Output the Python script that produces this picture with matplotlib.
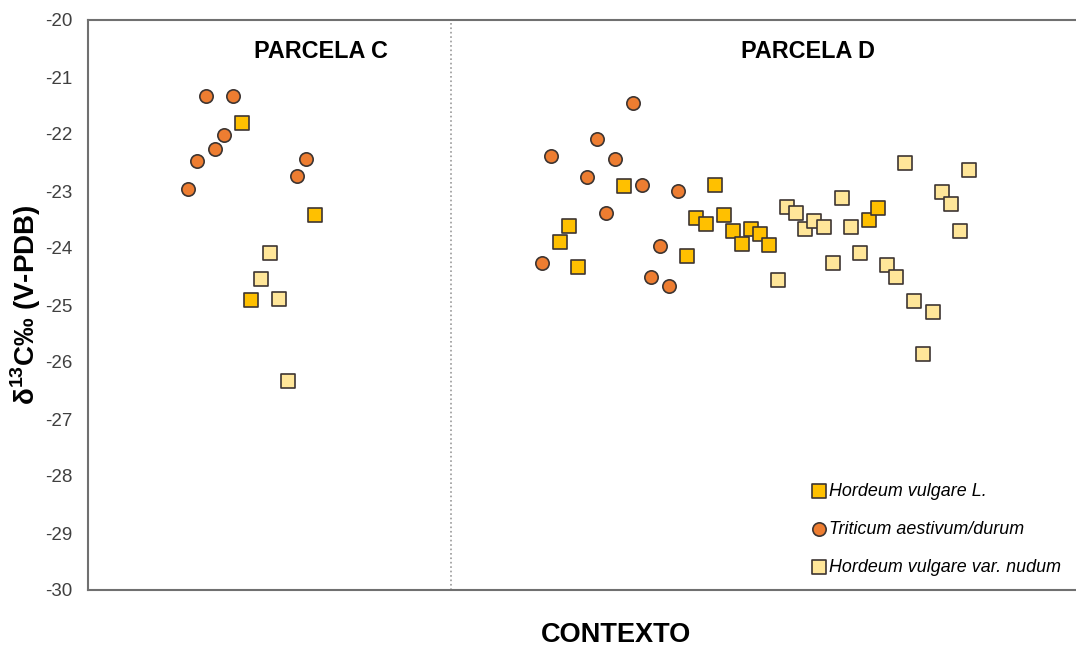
import matplotlib
import matplotlib.pyplot as plt

matplotlib.rcParams["font.family"] = ["Liberation Sans", "DejaVu Sans"]
matplotlib.rcParams["mathtext.fontset"] = "custom"
matplotlib.rcParams["mathtext.rm"] = "Liberation Sans:bold"
matplotlib.rcParams["mathtext.bf"] = "Liberation Sans:bold"

# sample position along the context axis and delta-13C values per taxon
hordeum_x = [17, 18, 25,
             52, 53, 54, 59, 66, 67, 68, 69, 70, 71, 72, 73, 74, 75, 86, 87]
hordeum_y = [-21.80, -24.91, -23.42,
             -23.89, -23.61, -24.33, -22.91, -24.14, -23.48, -23.58, -22.89,
             -23.42, -23.70, -23.93, -23.67, -23.76, -23.95, -23.51, -23.30]

triticum_x = [11, 12, 13, 14, 15, 16, 23, 24,
              50, 51, 55, 56, 57, 58, 60, 61, 62, 63, 64, 65]
triticum_y = [-22.96, -22.47, -21.33, -22.26, -22.02, -21.33, -22.73, -22.43,
              -24.27, -22.39, -22.75, -22.09, -23.39, -22.44, -21.45, -22.90,
              -24.50, -23.96, -24.66, -23.00]

nudum_x = [19, 20, 21, 22,
           76, 77, 78, 79, 80, 81, 82, 83, 84, 85,
           88, 89, 90, 91, 92, 93, 94, 95, 96, 97]
nudum_y = [-24.54, -24.09, -24.89, -26.33,
           -24.56, -23.28, -23.39, -23.67, -23.53, -23.64, -24.27, -23.13,
           -23.64, -24.08,
           -24.30, -24.50, -22.50, -24.93, -25.86, -25.13, -23.02, -23.23,
           -23.70, -22.64]

plot_boundary = 40
y_ticks = list(range(-30, -19))

fig = plt.figure(figsize=(10.76, 6.46), dpi=100)
ax = fig.add_axes([88 / 1076, 56 / 646, 1 - 88 / 1076, 570 / 646])

edge = "#3d3532"
ax.scatter(hordeum_x, hordeum_y, marker="s", s=95, c="#FFC000",
           edgecolors=edge, linewidths=1.2, zorder=3, label="Hordeum vulgare L.")
ax.scatter(triticum_x, triticum_y, marker="o", s=92, c="#ED7D31",
           edgecolors=edge, linewidths=1.2, zorder=3,
           label="Triticum aestivum/durum")
ax.scatter(nudum_x, nudum_y, marker="s", s=95, c="#FFE699",
           edgecolors=edge, linewidths=1.2, zorder=3,
           label="Hordeum vulgare var. nudum")

ax.axvline(plot_boundary, color="#9a9a9a", linestyle=":", linewidth=1.2)

ax.set_xlim(0, 108.8)
ax.set_ylim(-30, -20)
ax.set_yticks(y_ticks)
ax.set_yticklabels([str(t) for t in y_ticks])
ax.set_xticks([])
ax.tick_params(axis="y", length=0, pad=11, labelsize=13.5, labelcolor="#404040")

for side in ("left", "bottom", "top"):
    ax.spines[side].set_color("#707070")
    ax.spines[side].set_linewidth(1.5)
ax.spines["right"].set_visible(False)

ax.set_ylabel("δ$^{13}$C‰ (V-PDB)", fontsize=20, fontweight="bold", labelpad=2)
ax.set_xlabel("CONTEXTO", fontsize=19.5, fontweight="bold", labelpad=23)
ax.xaxis.label.set_x(0.534)

ax.text(0.236, 0.945, "PARCELA C", transform=ax.transAxes, ha="center",
        va="center", fontsize=16.8, fontweight="bold")
ax.text(0.729, 0.945, "PARCELA D", transform=ax.transAxes, ha="center",
        va="center", fontsize=16.8, fontweight="bold")

ax.legend(loc="lower left", bbox_to_anchor=(0.714, 0.0), frameon=False,
          prop={"style": "italic", "size": 12.9}, handletextpad=0.0,
          labelspacing=1.17, borderaxespad=0.4, handlelength=1.2)

fig.savefig("out.png", dpi=100)
